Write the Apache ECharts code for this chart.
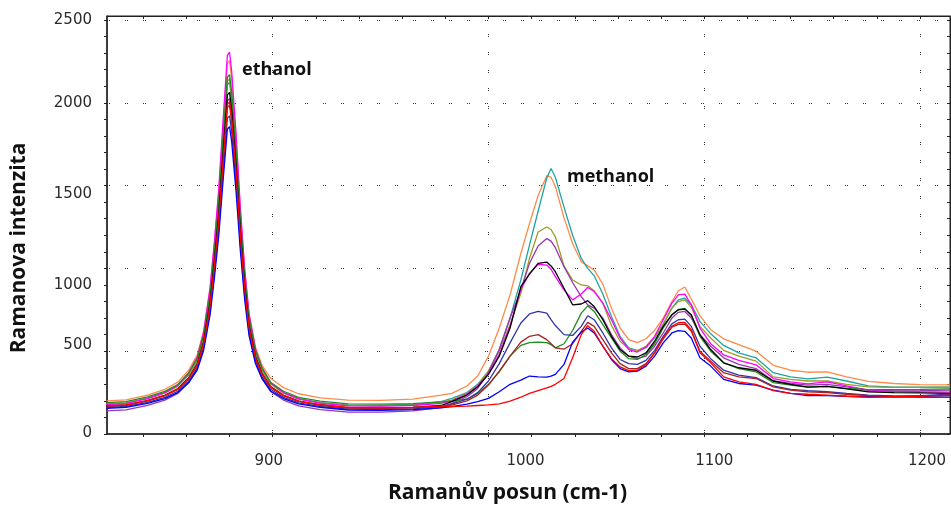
<!DOCTYPE html>
<html>
<head>
<meta charset="utf-8">
<script src="https://cdn.jsdelivr.net/npm/echarts@6/dist/echarts.min.js"></script>
<style>
  html, body { margin: 0; padding: 0; background: #ffffff; }
  #chart { width: 951px; height: 509px; }
</style>
</head>
<body>
<div id="chart"></div>
<script>
// Raman shift sampling points (cm-1), shared by all spectra
const ramanShift = [
  823, 832, 842, 850, 856, 861, 865, 868, 871, 873, 875, 877, 879, 880, 881, 883, 885, 887, 889, 892,
  895, 899, 905, 912, 922, 935, 950, 965, 978,
  983, 990, 995, 1000, 1005, 1010, 1015, 1019, 1023, 1027, 1029, 1031, 1035, 1039, 1043, 1046, 1049,
  1053, 1057, 1061, 1065, 1069, 1073, 1077, 1081, 1085, 1088, 1091, 1094, 1098, 1103, 1109, 1116, 1124,
  1132, 1140, 1148, 1157, 1166, 1176, 1188, 1200, 1214
];

// Raman intensity of each measured spectrum at the points above
const intensityOrange = [
  200, 206, 235, 270, 313, 384, 476, 622, 883, 1154, 1458, 1859, 2239, 2255, 2141, 1783, 1349, 991, 731, 525,
  416, 337, 280, 243, 218, 205, 203, 210, 235,
  245, 290, 350, 470, 640, 840, 1090, 1270, 1440, 1560, 1550, 1495, 1305, 1150, 1040, 1015, 990,
  905, 760, 640, 570, 552, 575, 625, 700, 800, 865, 888, 815, 715, 630, 575, 540, 500,
  415, 385, 373, 375, 345, 318, 305, 298, 297
];
const intensityTeal = [
  182, 188, 216, 248, 289, 356, 443, 582, 828, 1084, 1371, 1750, 2109, 2124, 2016, 1678, 1268, 930, 684, 489,
  387, 303, 249, 213, 189, 174, 172, 178, 196,
  215, 250, 300, 380, 510, 700, 930, 1140, 1345, 1545, 1603, 1550, 1370, 1200, 1060, 1000, 955,
  845, 710, 590, 520, 503, 520, 580, 660, 760, 810, 820, 780, 680, 605, 535, 490, 460,
  370, 345, 333, 343, 320, 290, 283, 283, 283
];
const intensityOlive = [
  180, 186, 214, 247, 289, 356, 444, 584, 833, 1092, 1383, 1766, 2129, 2145, 2036, 1694, 1279, 937, 688, 491,
  387, 302, 247, 211, 187, 172, 170, 176, 192,
  205, 245, 295, 380, 500, 660, 850, 1060, 1220, 1250, 1235, 1190, 1015, 930, 900, 895, 865,
  790, 655, 560, 515, 503, 530, 585, 665, 760, 800, 810, 765, 650, 580, 505, 470, 440,
  345, 330, 320, 320, 300, 285, 282, 282, 283
];
const intensityPurple = [
  140, 146, 173, 205, 245, 309, 394, 528, 767, 1016, 1294, 1662, 2011, 2026, 1921, 1593, 1195, 866, 628, 439,
  339, 257, 205, 170, 147, 132, 132, 140, 160,
  185, 225, 275, 370, 510, 700, 870, 1030, 1135, 1180, 1165, 1125, 1010, 915, 830, 780, 760,
  700, 600, 520, 470, 455, 470, 530, 610, 700, 735, 740, 700, 600, 530, 460, 420, 395,
  320, 305, 295, 300, 285, 265, 260, 262, 265
];
const intensityMagenta = [
  178, 184, 214, 250, 295, 368, 463, 615, 884, 1165, 1479, 1895, 2288, 2305, 2187, 1816, 1367, 997, 727, 514,
  401, 310, 250, 212, 186, 170, 168, 172, 185,
  200, 240, 290, 365, 480, 650, 875, 970, 1025, 1020, 995, 950, 870, 810, 845, 885, 860,
  790, 690, 580, 510, 495, 525, 590, 690, 790, 840, 845, 780, 640, 545, 478, 445, 418,
  335, 315, 303, 315, 290, 265, 258, 255, 253
];
const intensityBlack = [
  168, 174, 201, 233, 273, 338, 423, 558, 798, 1048, 1328, 1698, 2048, 2063, 1958, 1628, 1228, 898, 658, 468,
  368, 286, 233, 198, 175, 158, 156, 160, 172,
  195, 235, 285, 360, 470, 640, 890, 965, 1030, 1038, 1015, 980, 880, 780, 785, 805, 770,
  690, 590, 510, 470, 465, 490, 560, 650, 720, 750, 754, 720, 600, 510, 430, 400, 385,
  320, 300, 283, 288, 272, 255, 250, 248, 245
];
const intensityNavy = [
  160, 166, 191, 221, 258, 319, 398, 523, 746, 978, 1238, 1582, 1907, 1921, 1824, 1517, 1145, 839, 616, 439,
  347, 270, 221, 188, 166, 150, 148, 152, 165,
  180, 210, 250, 320, 425, 550, 670, 725, 740, 730, 690, 655, 600, 595, 650, 714, 690,
  610, 520, 450, 425, 420, 445, 505, 590, 665, 690, 694, 650, 530, 455, 385, 355, 340,
  290, 270, 262, 255, 245, 235, 230, 232, 240
];
const intensityBrown = [
  168, 174, 200, 231, 269, 331, 413, 542, 773, 1012, 1281, 1636, 1971, 1986, 1885, 1569, 1185, 868, 638, 456,
  360, 281, 231, 197, 175, 158, 156, 160, 170,
  175, 200, 235, 295, 380, 470, 555, 590, 600, 570, 545, 520, 512, 545, 620, 674, 650,
  570, 490, 425, 395, 395, 425, 490, 575, 645, 662, 664, 620, 500, 440, 370, 345, 335,
  285, 265, 255, 250, 240, 232, 225, 222, 222
];
const intensityGreen = [
  190, 196, 224, 257, 299, 367, 456, 597, 848, 1109, 1402, 1788, 2154, 2170, 2060, 1715, 1297, 952, 702, 503,
  399, 313, 258, 221, 198, 182, 180, 183, 194,
  198, 210, 245, 300, 375, 470, 535, 552, 555, 552, 540, 520, 545, 625, 730, 774, 740,
  660, 580, 500, 455, 450, 480, 545, 640, 720, 752, 758, 715, 590, 500, 430, 395, 375,
  310, 295, 283, 288, 275, 268, 268, 270, 273
];
const intensityBlue = [
  155, 161, 185, 214, 250, 309, 385, 506, 721, 945, 1197, 1529, 1842, 1856, 1762, 1466, 1107, 811, 596, 425,
  335, 260, 214, 182, 161, 145, 143, 147, 158,
  165, 180, 195, 215, 255, 300, 325, 350, 345, 343, 350, 360, 420, 555, 615, 640, 610,
  530, 450, 395, 375, 380, 410, 470, 550, 610, 624, 620, 580, 460, 410, 330, 305, 295,
  265, 245, 232, 232, 228, 225, 225, 228, 232
];
const intensityRed = [
  170, 176, 202, 233, 272, 335, 417, 548, 780, 1022, 1293, 1651, 1990, 2005, 1903, 1584, 1196, 877, 645, 461,
  364, 284, 233, 199, 177, 160, 158, 160, 165,
  165, 168, 172, 176, 182, 198, 222, 245, 262, 278, 288, 300, 335, 460, 600, 654, 620,
  530, 455, 405, 383, 385, 420, 490, 580, 650, 672, 674, 630, 490, 430, 345, 315, 300,
  262, 245, 240, 235, 228, 222, 225, 228, 235
];

// Axis tick values
const xLabelValues = [900, 1000, 1100, 1200];
const xMinorTicks = [840, 860, 880, 900, 920, 940, 960, 980, 1000, 1020, 1040, 1060, 1080, 1100,
  1120, 1140, 1160, 1180, 1200];
const yLabelValues = [0, 500, 1000, 1500, 2000, 2500];
const yMinorTicks = [0, 100, 200, 300, 400, 500, 600, 700, 800, 900, 1000, 1100, 1200, 1300, 1400,
  1500, 1600, 1700, 1800, 1900, 2000, 2100, 2200, 2300, 2400, 2500];

// Text annotations
const peakNotes = ['ethanol', 'methanol'];

const spectra = [
  { values: intensityOrange, color: '#ff8a4a' },
  { values: intensityTeal, color: '#1fa3a3' },
  { values: intensityOlive, color: '#9c9c24' },
  { values: intensityPurple, color: '#9a35b0' },
  { values: intensityMagenta, color: '#ff00ff' },
  { values: intensityGreen, color: '#1d8c1d' },
  { values: intensityBlack, color: '#000000' },
  { values: intensityNavy, color: '#3434a8' },
  { values: intensityBrown, color: '#a82222' },
  { values: intensityBlue, color: '#0000ff' },
  { values: intensityRed, color: '#ff0000' }
];

const X_MIN = 823.2, X_MAX = 1213.9, Y_MIN = 0, Y_MAX = 2524;
const tickFont = '"DejaVu Sans", sans-serif';
const titleFont = '"Open Sans", sans-serif';
const tickColor = '#2a2a2a';
const frameColor = '#222222';
const gridDots = { color: '#333333', width: 1, type: [1, 1, 1, 15] };

// per-label nudges of the tick text (pixels), kept apart from the data
const xLabelNudge = { 900: -4, 1000: 37, 1100: 10, 1200: 7 };
const yLabelNudge = { 0: -1, 500: -6, 1000: 17, 1500: 9, 2000: 0, 2500: 0 };

const xRich = {}, yRich = {};
xLabelValues.forEach(v => {
  const n = xLabelNudge[v] || 0;
  xRich['x' + v] = {
    fontFamily: tickFont, fontSize: 15, color: tickColor,
    padding: n >= 0 ? [0, 0, 0, 2 * n] : [0, -2 * n, 0, 0]
  };
});
yLabelValues.forEach(v => {
  const n = yLabelNudge[v] || 0;
  yRich['y' + v] = {
    fontFamily: tickFont, fontSize: 15, color: tickColor,
    padding: n >= 0 ? [2 * n, 0, 0, 0] : [0, 0, -2 * n, 0]
  };
});

const chart = echarts.init(document.getElementById('chart'), null, { renderer: 'canvas' });

const option = {
  animation: false,
  backgroundColor: '#ffffff',
  grid: {
    left: 107, right: 1, top: 16, bottom: 74,
    show: true, borderColor: frameColor, borderWidth: 1, backgroundColor: 'transparent'
  },
  xAxis: [
    {
      type: 'value', min: X_MIN, max: X_MAX, position: 'bottom',
      axisLine: { show: true, onZero: false, lineStyle: { color: frameColor, width: 1.5 } },
      axisTick: { show: true, customValues: xMinorTicks, length: 3, lineStyle: { color: frameColor } },
      axisLabel: {
        show: true, customValues: xLabelValues, margin: 20,
        formatter: v => '{x' + v + '|' + v + '}', rich: xRich
      },
      splitLine: { show: false },
      name: 'Ramanův posun (cm-1)', nameLocation: 'middle', nameGap: 49,
      nameTextStyle: {
        fontFamily: titleFont, fontWeight: 'bold', fontSize: 21, color: '#111111',
        padding: [0, 42, 0, 0]
      }
    },
    {
      type: 'value', min: X_MIN, max: X_MAX, position: 'top',
      axisLine: { show: true, onZero: false, lineStyle: { color: frameColor, width: 1 } },
      axisTick: { show: true, inside: true, customValues: xMinorTicks, length: 3, lineStyle: { color: frameColor } },
      axisLabel: { show: false },
      splitLine: { show: false }
    },
    {
      type: 'value', min: X_MIN, max: X_MAX, position: 'bottom',
      axisLine: { show: false, onZero: false },
      axisTick: { show: false, customValues: xLabelValues },
      axisLabel: { show: false },
      splitLine: { show: true, lineStyle: gridDots }
    }
  ],
  yAxis: [
    {
      type: 'value', min: Y_MIN, max: Y_MAX, position: 'left',
      axisLine: { show: true, onZero: false, lineStyle: { color: frameColor, width: 1.5 } },
      axisTick: { show: true, customValues: yMinorTicks, length: 3, lineStyle: { color: frameColor } },
      axisLabel: {
        show: true, customValues: yLabelValues, margin: 15,
        formatter: v => '{y' + v + '|' + v + '}', rich: yRich
      },
      splitLine: { show: false },
      name: 'Ramanova intenzita', nameLocation: 'middle', nameGap: 77,
      nameTextStyle: {
        fontFamily: titleFont, fontWeight: 'bold', fontSize: 21, color: '#111111',
        padding: [0, 46, 0, 0]
      }
    },
    {
      type: 'value', min: Y_MIN, max: Y_MAX, position: 'right',
      axisLine: { show: true, onZero: false, lineStyle: { color: frameColor, width: 1 } },
      axisTick: { show: true, inside: true, customValues: yMinorTicks, length: 3, lineStyle: { color: frameColor } },
      axisLabel: { show: false },
      splitLine: { show: false }
    },
    {
      type: 'value', min: Y_MIN, max: Y_MAX, position: 'left',
      axisLine: { show: false, onZero: false },
      axisTick: { show: false, customValues: yLabelValues.filter(v => v > 0) },
      axisLabel: { show: false },
      splitLine: { show: true, lineStyle: gridDots }
    }
  ],
  series: spectra.map(s => ({
    type: 'line',
    xAxisIndex: 0,
    yAxisIndex: 0,
    data: ramanShift.map((x, i) => [x, s.values[i]]),
    showSymbol: false,
    symbol: 'none',
    clip: true,
    silent: true,
    lineStyle: { color: s.color, width: 1.3 },
    z: 3
  })),
  graphic: [
    {
      type: 'text', left: 242, top: 61, z: 10,
      style: { text: peakNotes[0], font: 'bold 18px "Open Sans", sans-serif', fill: '#111111' }
    },
    {
      type: 'text', left: 567, top: 168, z: 10,
      style: { text: peakNotes[1], font: 'bold 18px "Open Sans", sans-serif', fill: '#111111' }
    }
  ]
};

chart.setOption(option);
</script>
</body>
</html>
